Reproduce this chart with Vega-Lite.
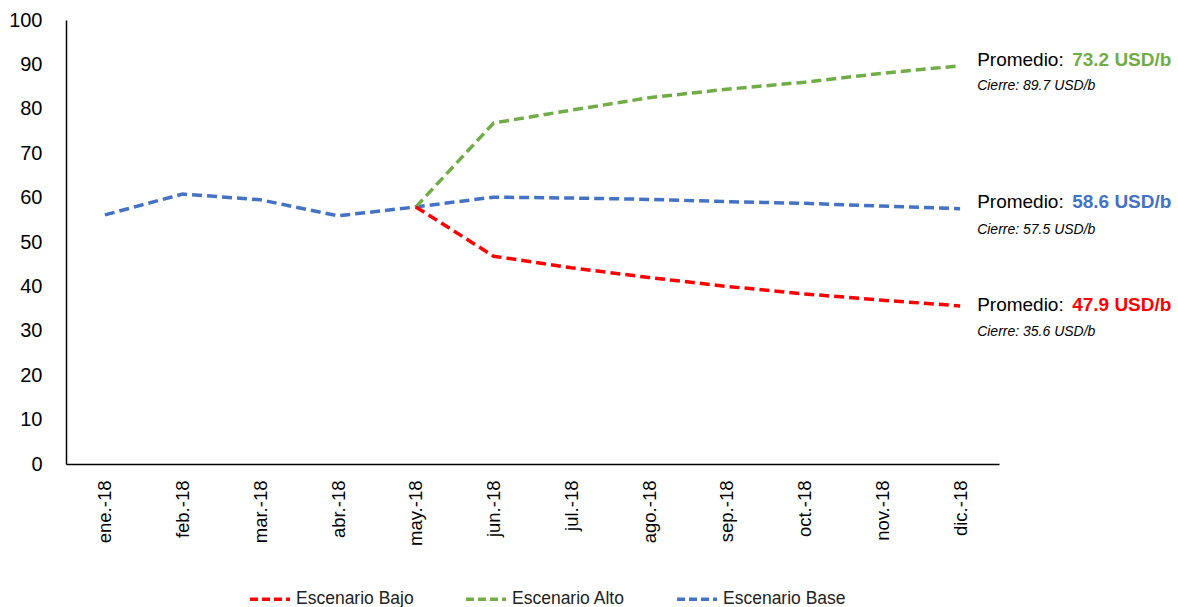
{
  "$schema": "https://vega.github.io/schema/vega-lite/v6.json",
  "autosize": {"type": "none"},
  "width": 933,
  "height": 444,
  "padding": {"left": 66, "top": 20, "right": 179, "bottom": 143},
  "background": "white",
  "config": {
    "view": {"stroke": null},
    "font": "Liberation Sans",
    "axis": {"grid": false, "ticks": false, "domainColor": "black", "domainWidth": 1.5, "labelColor": "black", "labelFont": "Liberation Sans"}
  },
  "datasets": {
    "serie": [
      {"mes": "ene.-18", "escenario": "Escenario Base", "valor": 56.1},
      {"mes": "feb.-18", "escenario": "Escenario Base", "valor": 60.8},
      {"mes": "mar.-18", "escenario": "Escenario Base", "valor": 59.5},
      {"mes": "abr.-18", "escenario": "Escenario Base", "valor": 55.9},
      {"mes": "may.-18", "escenario": "Escenario Base", "valor": 57.9},
      {"mes": "jun.-18", "escenario": "Escenario Base", "valor": 60.1},
      {"mes": "jul.-18", "escenario": "Escenario Base", "valor": 59.9},
      {"mes": "ago.-18", "escenario": "Escenario Base", "valor": 59.6},
      {"mes": "sep.-18", "escenario": "Escenario Base", "valor": 59.1},
      {"mes": "oct.-18", "escenario": "Escenario Base", "valor": 58.7},
      {"mes": "nov.-18", "escenario": "Escenario Base", "valor": 58.1},
      {"mes": "dic.-18", "escenario": "Escenario Base", "valor": 57.5},
      {"mes": "may.-18", "escenario": "Escenario Alto", "valor": 57.9},
      {"mes": "jun.-18", "escenario": "Escenario Alto", "valor": 76.8},
      {"mes": "jul.-18", "escenario": "Escenario Alto", "valor": 79.7},
      {"mes": "ago.-18", "escenario": "Escenario Alto", "valor": 82.5},
      {"mes": "sep.-18", "escenario": "Escenario Alto", "valor": 84.4},
      {"mes": "oct.-18", "escenario": "Escenario Alto", "valor": 86.0},
      {"mes": "nov.-18", "escenario": "Escenario Alto", "valor": 88.0},
      {"mes": "dic.-18", "escenario": "Escenario Alto", "valor": 89.7},
      {"mes": "may.-18", "escenario": "Escenario Bajo", "valor": 57.9},
      {"mes": "jun.-18", "escenario": "Escenario Bajo", "valor": 46.8},
      {"mes": "jul.-18", "escenario": "Escenario Bajo", "valor": 44.2},
      {"mes": "ago.-18", "escenario": "Escenario Bajo", "valor": 42.0},
      {"mes": "sep.-18", "escenario": "Escenario Bajo", "valor": 40.0},
      {"mes": "oct.-18", "escenario": "Escenario Bajo", "valor": 38.3},
      {"mes": "nov.-18", "escenario": "Escenario Bajo", "valor": 36.9},
      {"mes": "dic.-18", "escenario": "Escenario Bajo", "valor": 35.6}
    ],
    "notas": [
      {"mes": "dic.-18", "escenario": "Escenario Alto", "yProm": 91.0, "yCierre": 85.1, "promedio": "73.2 USD/b", "cierre": "Cierre: 89.7 USD/b"},
      {"mes": "dic.-18", "escenario": "Escenario Base", "yProm": 59.0, "yCierre": 52.7, "promedio": "58.6 USD/b", "cierre": "Cierre: 57.5 USD/b"},
      {"mes": "dic.-18", "escenario": "Escenario Bajo", "yProm": 35.8, "yCierre": 29.7, "promedio": "47.9 USD/b", "cierre": "Cierre: 35.6 USD/b"}
    ]
  },
  "layer": [
    {
      "data": {"name": "serie"},
      "mark": {"type": "line", "strokeWidth": 3.5, "strokeDash": [10, 5]},
      "encoding": {
        "x": {
          "field": "mes", "type": "ordinal",
          "scale": {"domain": ["ene.-18","feb.-18","mar.-18","abr.-18","may.-18","jun.-18","jul.-18","ago.-18","sep.-18","oct.-18","nov.-18","dic.-18"], "padding": 0.5},
          "axis": {"title": null, "labelAngle": -90, "labelFontSize": 18.5, "labelPadding": 16}
        },
        "y": {
          "field": "valor", "type": "quantitative",
          "scale": {"domain": [0, 100], "nice": false},
          "axis": {"title": null, "values": [0,10,20,30,40,50,60,70,80,90,100], "labelFontSize": 20, "labelPadding": 24}
        },
        "color": {
          "field": "escenario", "type": "nominal",
          "scale": {"domain": ["Escenario Bajo", "Escenario Alto", "Escenario Base"], "range": ["#FF0000", "#70AD47", "#4472C4"]},
          "legend": {
            "title": null, "orient": "none", "direction": "horizontal",
            "legendX": 182, "legendY": 557,
            "symbolType": "stroke", "symbolDash": [8, 4], "symbolStrokeWidth": 3.5, "symbolSize": 1600,
            "labelFontSize": 17.5, "labelFont": "Liberation Sans", "labelColor": "#222", "columnPadding": 45, "labelOffset": 4
          }
        }
      }
    },
    {
      "data": {"name": "notas"},
      "mark": {"type": "text", "align": "left", "baseline": "middle", "dx": 17, "fontSize": 19, "color": "black"},
      "encoding": {
        "x": {"field": "mes", "type": "ordinal"},
        "y": {"field": "yProm", "type": "quantitative"},
        "text": {"value": "Promedio:"}
      }
    },
    {
      "data": {"name": "notas"},
      "mark": {"type": "text", "align": "left", "baseline": "middle", "dx": 112, "fontSize": 19, "fontWeight": "bold"},
      "encoding": {
        "x": {"field": "mes", "type": "ordinal"},
        "y": {"field": "yProm", "type": "quantitative"},
        "text": {"field": "promedio"},
        "color": {"field": "escenario", "type": "nominal", "legend": null}
      }
    },
    {
      "data": {"name": "notas"},
      "mark": {"type": "text", "align": "left", "baseline": "middle", "dx": 17, "fontSize": 14, "fontStyle": "italic", "color": "black"},
      "encoding": {
        "x": {"field": "mes", "type": "ordinal"},
        "y": {"field": "yCierre", "type": "quantitative"},
        "text": {"field": "cierre"}
      }
    }
  ]
}
